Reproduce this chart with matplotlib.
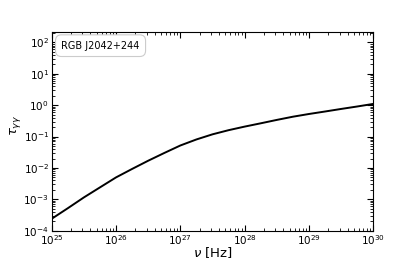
import numpy as np
import matplotlib
matplotlib.use('Agg')
from matplotlib import pyplot as plt

# frequency [Hz] and gamma-gamma optical depth
nu = [1e25, 10**25.25, 10**25.5, 10**25.75, 1e26, 10**26.25, 10**26.5, 10**26.75,
      1e27, 10**27.25, 10**27.5, 10**27.75, 1e28, 10**28.25, 10**28.5, 10**28.75,
      1e29, 10**29.25, 10**29.5, 10**29.75, 1e30]
tau = [2.4e-4, 5.2e-4, 1.15e-3, 2.4e-3, 5.0e-3, 9.3e-3, 1.7e-2, 3.0e-2,
       5.2e-2, 8.1e-2, 0.118, 0.16, 0.208, 0.265, 0.34, 0.43,
       0.525, 0.63, 0.76, 0.91, 1.1]
source = 'RGB J2042+244'

fig = plt.figure(figsize=(4.15, 2.6), dpi=100)
ax = fig.add_axes([0.1246, 0.1127, 0.8995 - 0.1246, 0.878 - 0.1127])
ax.plot(nu, tau, 'k', lw=1.4)
ax.set_xscale('log')
ax.set_yscale('log')
ax.set_xlim(1e25, 1e30)
ax.set_ylim(1e-4, 2.2e2)

ax.tick_params(which='both', direction='in', top=True, right=True, labelsize=7.5, pad=2)
ax.tick_params(which='major', length=4)
ax.tick_params(which='minor', length=2)
ax.yaxis.set_major_locator(matplotlib.ticker.LogLocator(base=10, numticks=10))
ax.yaxis.set_minor_locator(matplotlib.ticker.LogLocator(base=10, subs=np.arange(2, 10), numticks=10))

ax.set_xlabel(r'$\nu$ [Hz]', fontsize=9.5)
ax.xaxis.set_label_coords(0.5, -0.072)
ax.set_ylabel(r'$\tau_{\gamma\gamma}$', fontsize=9.5)
ax.yaxis.set_label_coords(-0.09, 0.53)

ax.text(0.03, 0.955, source, transform=ax.transAxes, fontsize=7, va='top', ha='left',
        bbox=dict(boxstyle='round,pad=0.6', fc='w', ec='0.8', lw=0.8))

plt.savefig('out.png', dpi=100)
